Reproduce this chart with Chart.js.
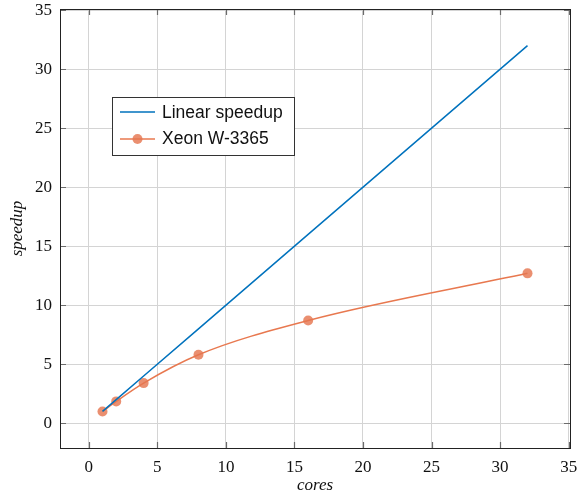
<!DOCTYPE html>
<html>
<head>
<meta charset="utf-8">
<script src="https://cdn.jsdelivr.net/npm/chart.js@4.4.1/dist/chart.umd.min.js"></script>
<style>
  html, body { margin: 0; padding: 0; background: #fff; }
  #wrap { width: 579px; height: 500px; }
</style>
</head>
<body>
<div id="wrap"><canvas id="speedupChart"></canvas></div>
<script>
const cores = [1, 2, 4, 8, 16, 32];
const linearSpeedup = [1, 2, 4, 8, 16, 32];
const xeonSpeedup = [1, 1.85, 3.4, 5.8, 8.7, 12.7];
const tickValues = [0, 5, 10, 15, 20, 25, 30, 35];

const blue = '#0072bd';
const orange = '#e8784f';
const markerFill = 'rgba(229,118,80,0.82)';

const keepTicks = (scale) => {
  scale.ticks = tickValues.map((v) => ({ value: v }));
};

// frame, inner tick marks and legend box
const framePlugin = {
  id: 'frame',
  afterDatasetsDraw(chart) {
    const { ctx, chartArea: a, scales } = chart;
    ctx.save();
    ctx.strokeStyle = '#6b6b6b';
    ctx.lineWidth = 1.2;
    tickValues.forEach((v) => {
      const x = Math.round(scales.x.getPixelForValue(v)) + 0.5;
      const y = Math.round(scales.y.getPixelForValue(v)) + 0.5;
      ctx.beginPath();
      ctx.moveTo(x, a.bottom); ctx.lineTo(x, a.bottom - 6);
      ctx.moveTo(x, a.top); ctx.lineTo(x, a.top + 6);
      ctx.moveTo(a.left, y); ctx.lineTo(a.left + 6, y);
      ctx.moveTo(a.right, y); ctx.lineTo(a.right - 6, y);
      ctx.stroke();
    });
    ctx.strokeStyle = '#222';
    ctx.lineWidth = 1;
    ctx.strokeRect(Math.round(a.left) + 0.5, Math.round(a.top) + 0.5,
      Math.round(a.right - a.left), Math.round(a.bottom - a.top));

    // legend
    const lx = 112.5, ly = 97.5, lw = 182, lh = 58;
    ctx.fillStyle = '#fff';
    ctx.fillRect(lx, ly, lw, lh);
    ctx.strokeStyle = '#333';
    ctx.strokeRect(lx, ly, lw, lh);
    ctx.lineWidth = 1.5;
    ctx.strokeStyle = blue;
    ctx.beginPath(); ctx.moveTo(120, 112); ctx.lineTo(155, 112); ctx.stroke();
    ctx.strokeStyle = orange;
    ctx.beginPath(); ctx.moveTo(120, 139); ctx.lineTo(155, 139); ctx.stroke();
    ctx.fillStyle = markerFill;
    ctx.beginPath(); ctx.arc(137.5, 139, 5, 0, Math.PI * 2); ctx.fill();
    ctx.fillStyle = '#111';
    ctx.font = '17.5px "Liberation Sans"';
    ctx.textBaseline = 'middle';
    ctx.fillText('Linear speedup', 162, 113);
    ctx.fillText('Xeon W-3365', 162, 139);
    ctx.restore();
  }
};

new Chart(document.getElementById('speedupChart'), {
  type: 'line',
  data: {
    datasets: [
      {
        label: 'Linear speedup',
        data: cores.map((c, i) => ({ x: c, y: linearSpeedup[i] })),
        borderColor: blue,
        borderWidth: 1.5,
        pointRadius: 0,
        tension: 0,
      },
      {
        label: 'Xeon W-3365',
        data: cores.map((c, i) => ({ x: c, y: xeonSpeedup[i] })),
        borderColor: orange,
        borderWidth: 1.5,
        backgroundColor: markerFill,
        pointBackgroundColor: markerFill,
        pointBorderColor: markerFill,
        pointRadius: 5,
        pointBorderWidth: 0,
        tension: 0.4,
        cubicInterpolationMode: 'monotone',
      },
    ],
  },
  options: {
    responsive: true,
    maintainAspectRatio: false,
    animation: false,
    layout: { padding: { top: 9, right: 9, left: 7, bottom: 4 } },
    plugins: { legend: { display: false }, tooltip: { enabled: false } },
    scales: {
      x: {
        type: 'linear',
        min: -2.1,
        max: 35.1,
        afterBuildTicks: keepTicks,
        afterFit: (scale) => {
          scale.height = 48;
          scale.paddingLeft = 0;
          scale.paddingRight = 0;
        },
        grid: { color: '#d4d4d4', lineWidth: 1, drawTicks: false },
        border: { display: false },
        ticks: {
          color: '#111',
          padding: 9,
          font: { family: '"Liberation Serif"', size: 17 },
        },
        title: {
          display: true,
          text: 'cores',
          color: '#111',
          padding: { top: 0, bottom: 0 },
          font: { family: '"Liberation Serif"', size: 17, style: 'italic' },
        },
      },
      y: {
        type: 'linear',
        min: -2.1,
        max: 35.1,
        afterBuildTicks: keepTicks,
        afterFit: (scale) => {
          scale.width = 53;
          scale.paddingTop = 0;
          scale.paddingBottom = 0;
        },
        grid: { color: '#d4d4d4', lineWidth: 1, drawTicks: false },
        border: { display: false },
        ticks: {
          color: '#111',
          padding: 8,
          font: { family: '"Liberation Serif"', size: 17 },
        },
        title: {
          display: true,
          text: 'speedup',
          color: '#111',
          padding: { top: 0, bottom: 4 },
          font: { family: '"Liberation Serif"', size: 17, style: 'italic' },
        },
      },
    },
  },
  plugins: [framePlugin],
});
</script>
</body>
</html>
